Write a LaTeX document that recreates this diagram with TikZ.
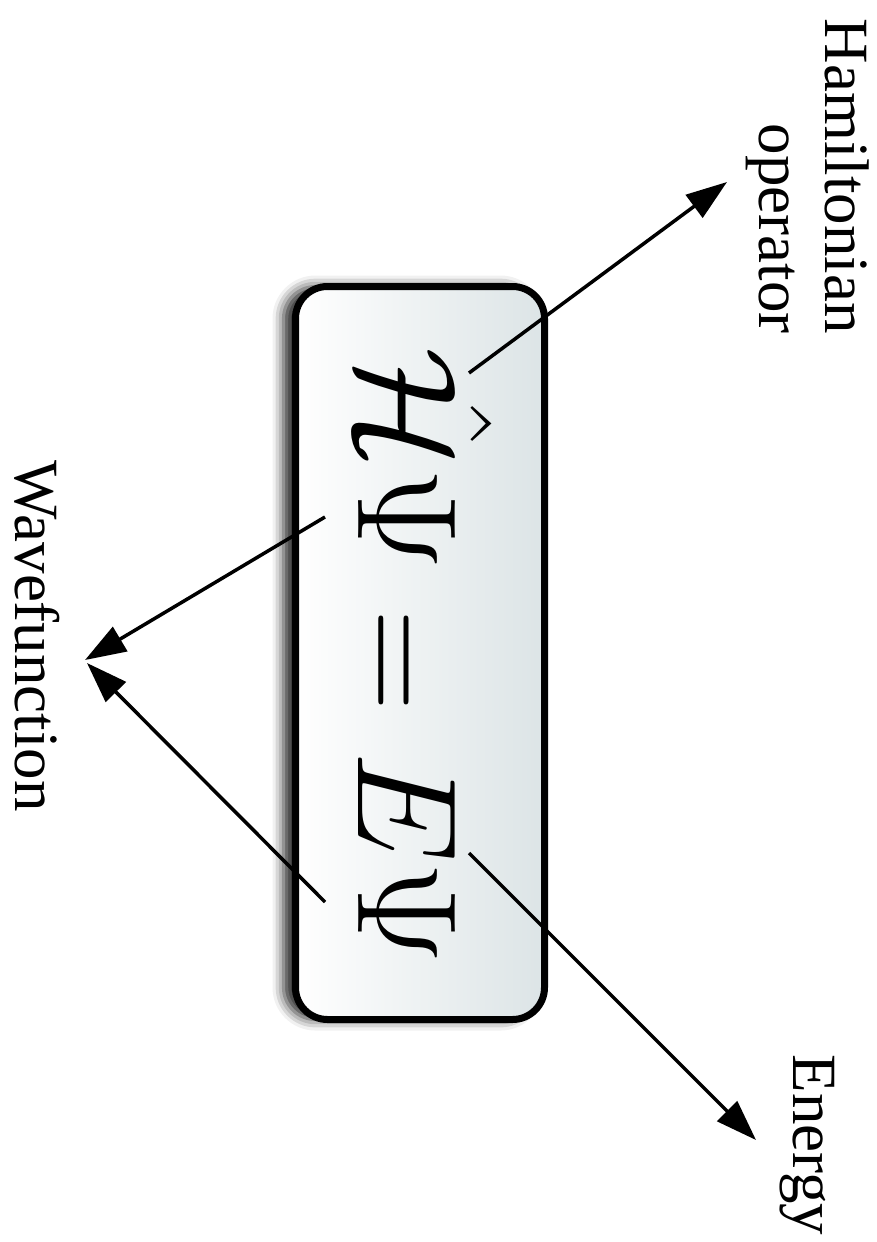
\documentclass[tikz,border=0pt]{standalone}
\usepackage{fontspec}
\setmainfont{Liberation Serif}
\usetikzlibrary{arrows.meta,shadows.blur}
\definecolor{boxgrey}{RGB}{220,228,230}
\tikzset{
  lbl/.style={rotate=-90, inner sep=0pt, font=\fontsize{63}{67}\selectfont},
  arr/.style={line width=3.5pt, -{Triangle[length=41pt,width=28pt]}},
  eqbox/.style={draw=black, line width=7pt, rounded corners=32pt,
    minimum width=249pt, minimum height=733pt, inner sep=0pt,
    left color=white, right color=boxgrey,
    blur shadow={shadow xshift=-12pt, shadow yshift=0pt, shadow blur radius=11pt, shadow opacity=85}}
}
\begin{document}
\begin{tikzpicture}[x=1pt,y=-1pt]
\useasboundingbox (0,0) rectangle (877,1242);
\node[eqbox] (box) at (420,653) {};
\node[rotate=-90, scale=5.7, inner sep=0pt, anchor=base, font=\Huge] (eq) at (358,656) {$\hat{\mathcal{H}}\Psi = E\Psi$};
\node[lbl, anchor=base east] (ham) at (825,334) {Hamiltonian};
\node[lbl, anchor=base east] (op) at (759,334) {operator};
\node[lbl, anchor=base] (wave) at (15,636) {Wavefunction};
\node[lbl, anchor=base] (en) at (793,1145) {Energy};
\coordinate (hS) at (469,373);
\coordinate (hT) at (727,182);
\coordinate (w1S) at (325,517);
\coordinate (w1T) at (85,660);
\coordinate (w2S) at (325,902);
\coordinate (w2T) at (87,663);
\coordinate (eS) at (469,853);
\coordinate (eT) at (756,1140);
\draw[arr] (hS) -- (hT);
\draw[arr] (w1S) -- (w1T);
\draw[arr] (w2S) -- (w2T);
\draw[arr] (eS) -- (eT);
\end{tikzpicture}
\end{document}
